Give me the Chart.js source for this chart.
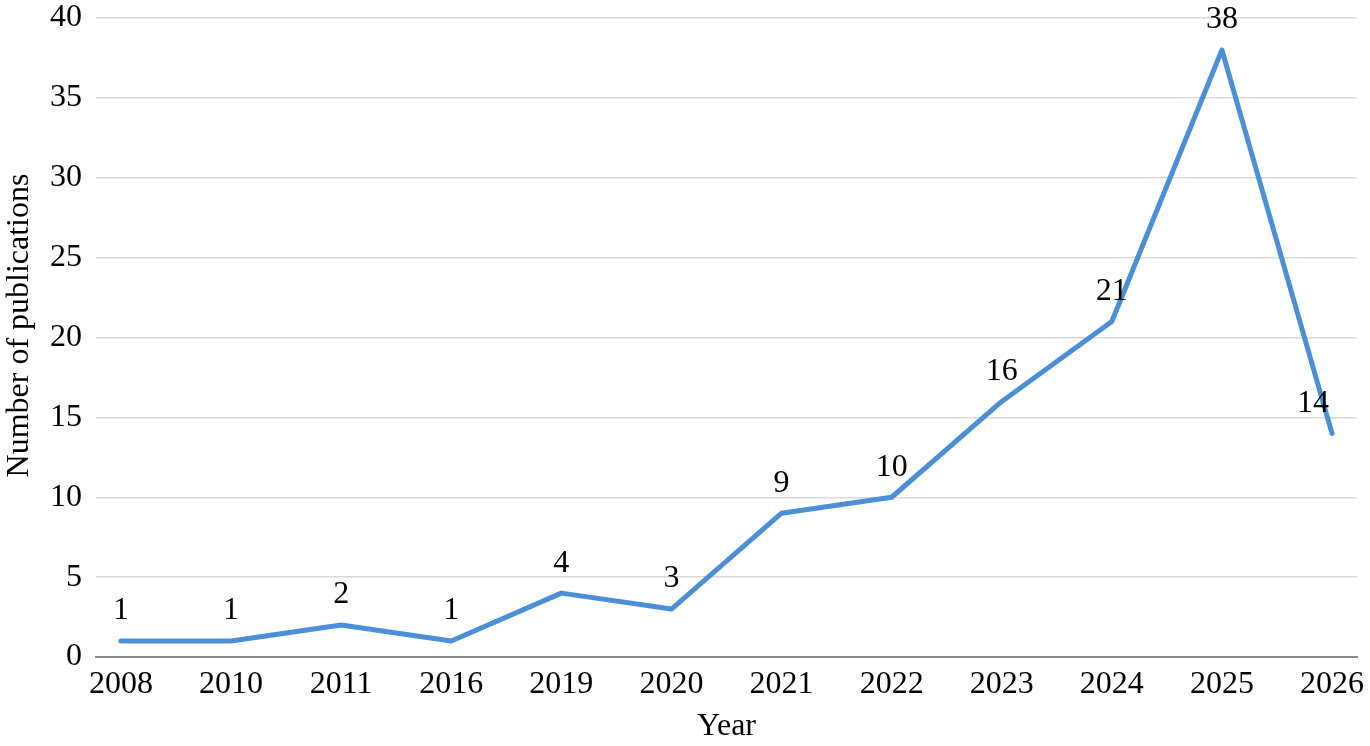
<!DOCTYPE html>
<html>
<head>
<meta charset="utf-8">
<script src="https://cdn.jsdelivr.net/npm/chart.js@4"></script>
<style>
  html, body { margin: 0; padding: 0; background: #fff; }
  #wrap { width: 1370px; height: 746px; }
</style>
</head>
<body>
<div id="wrap"><canvas id="myChart" width="1370" height="746"></canvas></div>
<script>
  // Data
  const years = ['2008', '2010', '2011', '2016', '2019', '2020', '2021', '2022', '2023', '2024', '2025', '2026'];
  const publications = [1, 1, 2, 1, 4, 3, 9, 10, 16, 21, 38, 14];
  const yTicks = [0, 5, 10, 15, 20, 25, 30, 35, 40];

  const FONT = "'Liberation Serif', 'Times New Roman', serif";
  const FSIZE = 32;

  // Value labels above each point + rotated y title
  const pointLabels = {
    id: 'pointLabels',
    afterDatasetsDraw(chart) {
      const ctx = chart.ctx;
      const meta = chart.getDatasetMeta(0);
      ctx.save();
      ctx.font = FSIZE + 'px ' + FONT;
      ctx.fillStyle = '#000';
      ctx.textAlign = 'center';
      ctx.textBaseline = 'middle';
      meta.data.forEach((pt, i) => {
        let dx = 0;
        if (i === meta.data.length - 1) dx = -19; // keep last label inside
        ctx.fillText(String(publications[i]), pt.x + dx, pt.y - 30);
      });
      // y axis title
      ctx.translate(20, chart.chartArea.top + (chart.chartArea.bottom - chart.chartArea.top) / 2 - 12);
      ctx.rotate(-Math.PI / 2);
      ctx.fillText('Number of publications', 0, 0);
      ctx.restore();
    }
  };

  const ctx = document.getElementById('myChart').getContext('2d');
  const myChart = new Chart(ctx, {
    type: 'line',
    data: {
      datasets: [{
        label: 'Publications',
        data: publications.map((v, i) => ({ x: i, y: v })),
        borderColor: '#4a8fd8',
        backgroundColor: '#4a8fd8',
        borderWidth: 5,
        borderCapStyle: 'round',
        borderJoinStyle: 'round',
        pointRadius: 0,
        tension: 0,
        clip: false
      }]
    },
    options: {
      responsive: false,
      animation: false,
      layout: { padding: { top: 0, right: 13, left: 0, bottom: 0 } },
      plugins: {
        legend: { display: false },
        tooltip: { enabled: false }
      },
      scales: {
        x: {
          type: 'linear',
          min: -0.227,
          max: 11.227,
          afterBuildTicks(scale) {
            scale.ticks = years.map((y, i) => ({ value: i }));
          },
          afterFit(scale) { scale.height = 89; },
          grid: { display: false },
          border: { display: true, color: '#8c8c8c', width: 2 },
          ticks: {
            autoSkip: false,
            maxRotation: 0,
            padding: 0,
            color: '#000',
            font: { family: FONT, size: FSIZE },
            callback: (v) => years[v]
          },
          title: {
            display: true,
            text: 'Year',
            color: '#000',
            font: { family: FONT, size: FSIZE },
            padding: { top: 0, bottom: 0 }
          }
        },
        y: {
          min: 0,
          max: 40,
          afterBuildTicks(scale) {
            scale.ticks = yTicks.map(v => ({ value: v }));
          },
          afterFit(scale) {
            scale.width = 96;
            scale.paddingTop = 18;
            scale.paddingBottom = 0;
          },
          grid: { color: '#d9d9d9', lineWidth: 1.5, drawTicks: false },
          border: { display: false },
          ticks: {
            padding: 14,
            color: '#000',
            font: { family: FONT, size: FSIZE }
          },
          title: { display: false }
        }
      }
    },
    plugins: [pointLabels]
  });
</script>
</body>
</html>
